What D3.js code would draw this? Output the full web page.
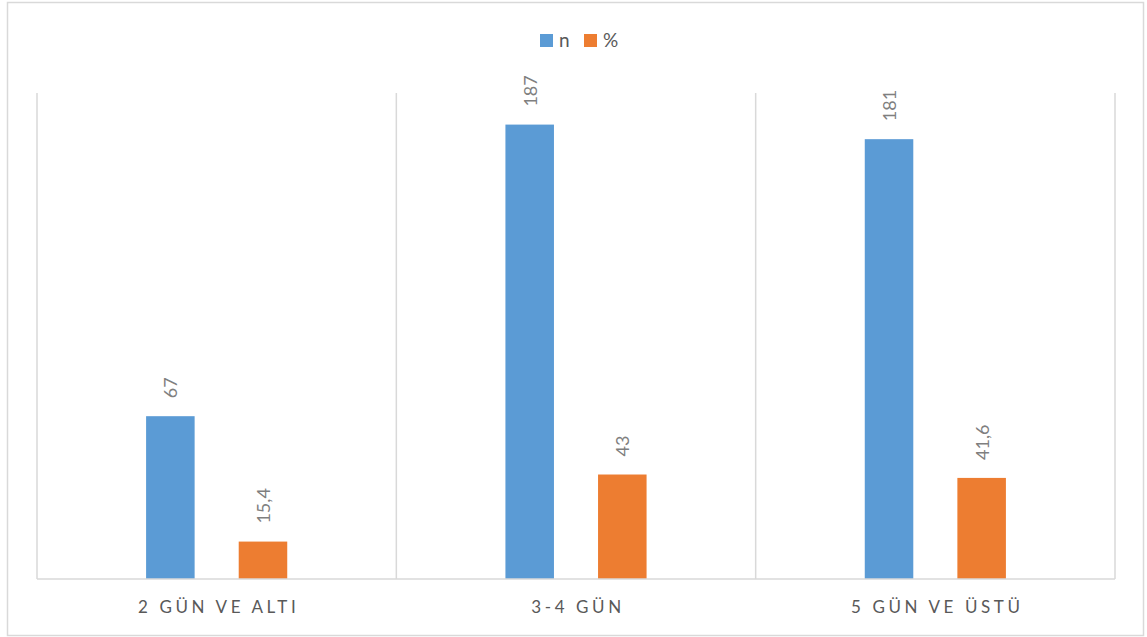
<!DOCTYPE html>
<html>
<head>
<meta charset="utf-8">
<script src="https://cdn.jsdelivr.net/npm/d3@7"></script>
<style>
  html, body { margin: 0; padding: 0; background: #fff; }
  svg { display: block; }
</style>
</head>
<body>
<svg id="chart" width="1147" height="637"></svg>
<script>
// Categories and series values
const categories = ["2 GÜN VE ALTI", "3-4 GÜN", "5 GÜN VE ÜSTÜ"];
const seriesNames = ["n", "%"];
const nValues = [67, 187, 181];
const pctValues = [15.4, 43, 41.6];
const pctLabels = ["15,4", "43", "41,6"];
const nLabels = ["67", "187", "181"];
const colors = ["#5B9BD5", "#ED7D31"];

const W = 1147, H = 637;
const plot = { left: 37, right: 1115, top: 93, bottom: 579 };
const font = "Lato, 'Open Sans', sans-serif";

const svg = d3.select("#chart");

// Outer chart border
svg.append("rect")
  .attr("x", 7.5).attr("y", 2.5)
  .attr("width", 1136).attr("height", 633)
  .attr("fill", "#fff")
  .attr("stroke", "#d9d9d9").attr("stroke-width", 1.5);

const x0 = d3.scaleBand().domain(categories).range([plot.left, plot.right]).padding(0);
const bw = x0.bandwidth();
const x1 = d3.scaleBand().domain(seriesNames)
  .range([bw * 0.3036, bw * 0.6964]).paddingInner(0.476).paddingOuter(0);
const y = d3.scaleLinear().domain([0, 200]).range([plot.bottom, plot.top]);

// Vertical category separators
const seps = categories.map(c => x0(c)).concat([plot.right]);
svg.append("g").selectAll("line").data(seps).join("line")
  .attr("x1", d => d).attr("x2", d => d)
  .attr("y1", plot.top).attr("y2", plot.bottom)
  .attr("stroke", "#d9d9d9").attr("stroke-width", 1.5);

const rows = categories.map((c, i) => ({
  cat: c,
  vals: [
    { s: "n", v: nValues[i], label: nLabels[i] },
    { s: "%", v: pctValues[i], label: pctLabels[i] }
  ]
}));

const groups = svg.append("g").selectAll("g").data(rows).join("g")
  .attr("transform", d => `translate(${x0(d.cat)},0)`);

groups.selectAll("rect").data(d => d.vals).join("rect")
  .attr("x", d => x1(d.s))
  .attr("width", x1.bandwidth())
  .attr("y", d => y(d.v))
  .attr("height", d => y(0) - y(d.v))
  .attr("fill", (d, i) => colors[i]);

// Rotated value labels above bars
groups.selectAll("text").data(d => d.vals).join("text")
  .attr("transform", d => `translate(${x1(d.s) + x1.bandwidth() / 2},${y(d.v) - 18}) rotate(-90)`)
  .attr("text-anchor", "start")
  .attr("dominant-baseline", "central")
  .attr("font-family", font)
  .attr("font-size", 18)
  .attr("fill", "#7f7f7f")
  .text(d => d.label);

// Baseline axis
svg.append("line")
  .attr("x1", plot.left).attr("x2", plot.right)
  .attr("y1", plot.bottom).attr("y2", plot.bottom)
  .attr("stroke", "#d9d9d9").attr("stroke-width", 1.5);

// Category labels
svg.append("g").selectAll("text").data(categories).join("text")
  .attr("x", d => x0(d) + bw / 2 + 2)
  .attr("y", 613)
  .attr("text-anchor", "middle")
  .attr("font-family", font)
  .attr("font-size", 17)
  .attr("letter-spacing", "3.6px")
  .attr("fill", "#595959")
  .text(d => d);

// Legend
const legend = svg.append("g").attr("transform", "translate(540,34)");
const legItems = [{ name: "n", x: 0 }, { name: "%", x: 44 }];
legItems.forEach((it, i) => {
  legend.append("rect").attr("x", it.x).attr("y", 0).attr("width", 13).attr("height", 13).attr("fill", colors[i]);
  legend.append("text").attr("x", it.x + 19).attr("y", 13)
    .attr("font-family", font).attr("font-size", 19).attr("fill", "#595959").text(it.name);
});
</script>
</body>
</html>
